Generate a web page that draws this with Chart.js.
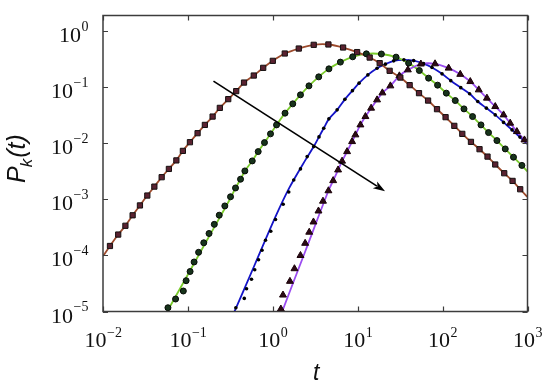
<!DOCTYPE html>
<html>
<head>
<meta charset="utf-8">
<script src="https://cdn.jsdelivr.net/npm/chart.js@4.4.1/dist/chart.umd.min.js"></script>
<style>
body { margin: 0; background: #fff; }
#wrap { width: 550px; height: 388px; }
</style>
</head>
<body>
<div id="wrap"><canvas id="pkChart" width="550" height="388"></canvas></div>
<script>
// values, stored as log10(t) and log10(P)
const xTickExp = [-2, -1, 0, 1, 2, 3];
const yTickExp = [-5, -4, -3, -2, -1, 0];

// red squares (first and last entries only anchor the line at the frame)
const redLogT = [-2.00, -1.918, -1.821, -1.736, -1.651, -1.565, -1.478, -1.395, -1.309, -1.224, -1.136, -1.059, -0.976, -0.886, -0.800, -0.709, -0.624, -0.525, -0.431, -0.339, -0.224, -0.113, 0.000, 0.141, 0.306, 0.482, 0.655, 0.828, 0.993, 1.141, 1.259, 1.376, 1.502, 1.612, 1.722, 1.829, 1.934, 2.035, 2.138, 2.232, 2.334, 2.435, 2.529, 2.620, 2.726, 2.824, 2.914, 3.00];
const redLogP = [-4.01, -3.830, -3.626, -3.469, -3.282, -3.106, -2.929, -2.770, -2.602, -2.454, -2.302, -2.132, -1.977, -1.816, -1.668, -1.519, -1.364, -1.208, -1.065, -0.912, -0.786, -0.649, -0.524, -0.393, -0.304, -0.238, -0.232, -0.286, -0.368, -0.465, -0.565, -0.702, -0.822, -0.958, -1.101, -1.233, -1.387, -1.530, -1.685, -1.828, -1.971, -2.102, -2.234, -2.375, -2.531, -2.668, -2.817, -2.954];

// green circles
const greenLogT = [-1.235, -1.145, -1.054, -1.021, -0.974, -0.927, -0.874, -0.813, -0.751, -0.689, -0.631, -0.565, -0.498, -0.439, -0.380, -0.329, -0.242, -0.172, -0.098, -0.027, 0.044, 0.144, 0.235, 0.326, 0.426, 0.541, 0.661, 0.796, 0.941, 1.102, 1.279, 1.452, 1.600, 1.726, 1.835, 1.941, 2.044, 2.149, 2.252, 2.353, 2.452, 2.541, 2.640, 2.738, 2.835, 2.934];
const greenLogP = [-4.933, -4.777, -4.634, -4.450, -4.286, -4.116, -3.943, -3.773, -3.607, -3.444, -3.280, -3.115, -2.951, -2.794, -2.638, -2.490, -2.311, -2.145, -1.984, -1.828, -1.668, -1.458, -1.292, -1.131, -0.971, -0.810, -0.667, -0.547, -0.452, -0.399, -0.402, -0.458, -0.565, -0.697, -0.833, -0.958, -1.101, -1.233, -1.382, -1.519, -1.668, -1.805, -1.948, -2.097, -2.245, -2.391];
const greenLineLowT = [-1.30, -1.036, -0.774, -0.510];
const greenLineLowP = [-5.15, -4.438, -3.723, -3.008];
const greenLineEnd = [3.00, -2.50];

// blue dots
const blueLogT = [-0.435, -0.336, -0.309, -0.251, -0.213, -0.168, -0.127, -0.086, -0.024, 0.032, 0.122, 0.188, 0.247, 0.326, 0.405, 0.482, 0.544, 0.600, 0.661, 0.758, 0.849, 0.938, 1.016, 1.120, 1.228, 1.326, 1.424, 1.544, 1.659, 1.776, 1.875, 1.993, 2.096, 2.214, 2.318, 2.414, 2.516, 2.620, 2.718, 2.818, 2.911];
const blueLogP = [-4.933, -4.766, -4.593, -4.425, -4.254, -4.075, -3.907, -3.728, -3.567, -3.357, -3.085, -2.865, -2.651, -2.454, -2.234, -2.055, -1.882, -1.727, -1.560, -1.399, -1.212, -1.056, -0.922, -0.775, -0.656, -0.583, -0.524, -0.506, -0.520, -0.574, -0.643, -0.756, -0.878, -1.003, -1.113, -1.251, -1.369, -1.489, -1.623, -1.757, -1.886];
const blueLineLowT = [-0.495, -0.209, 0.032, 0.194, 0.385];
const blueLineLowP = [-5.153, -4.152, -3.307, -2.793, -2.293];
const blueLineEnd = [3.00, -2.01];

// magenta triangles
const magLogT = [0.095, 0.120, 0.202, 0.255, 0.326, 0.381, 0.429, 0.479, 0.538, 0.591, 0.655, 0.711, 0.769, 0.816, 0.875, 0.934, 0.973, 1.032, 1.091, 1.158, 1.228, 1.291, 1.385, 1.491, 1.591, 1.744, 1.911, 2.071, 2.208, 2.326, 2.426, 2.522, 2.620, 2.718, 2.796, 2.875, 2.964];
const magLogP = [-4.956, -4.706, -4.461, -4.236, -4.000, -3.782, -3.584, -3.401, -3.205, -3.030, -2.844, -2.663, -2.472, -2.315, -2.145, -1.966, -1.846, -1.668, -1.519, -1.369, -1.221, -1.096, -0.971, -0.792, -0.685, -0.581, -0.577, -0.654, -0.765, -0.894, -1.042, -1.190, -1.340, -1.489, -1.637, -1.787, -1.936];
const magLineLowT = [0.08, 0.108, 0.384];
const magLineLowP = [-5.15, -5.01, -3.919];
const magLineEnd = [3.00, -1.99];

// arrow drawn across the curves (t, P)
const arrowFrom = [0.2, 0.13];
const arrowTo = [21, 0.0014];

function pts(lt, lp) {
	return lt.map(function(v, i) { return { x: Math.pow(10, v), y: Math.pow(10, lp[i]) }; });
}
function linePts(lowT, lowP, mT, mP, from, end) {
	return pts(lowT, lowP).concat(pts(mT.slice(from), mP.slice(from)), pts([end[0]], [end[1]]));
}

var frameColor = '#3c3c3c';

var framePlugin = {
	id: 'framePlugin',
	afterDraw: function(chart) {
		var ctx = chart.ctx;
		var a = chart.chartArea;
		var xs = chart.scales.x, ys = chart.scales.y;
		ctx.save();

		// arrow
		var x0 = xs.getPixelForValue(arrowFrom[0]), y0 = ys.getPixelForValue(arrowFrom[1]);
		var x1 = xs.getPixelForValue(arrowTo[0]), y1 = ys.getPixelForValue(arrowTo[1]);
		var ang = Math.atan2(y1 - y0, x1 - x0);
		var hl = 12, hw = 4;
		ctx.strokeStyle = '#000';
		ctx.fillStyle = '#000';
		ctx.lineWidth = 1.7;
		ctx.beginPath();
		ctx.moveTo(x0, y0);
		ctx.lineTo(x1 - Math.cos(ang) * hl * 0.8, y1 - Math.sin(ang) * hl * 0.8);
		ctx.stroke();
		ctx.beginPath();
		ctx.moveTo(x1, y1);
		ctx.lineTo(x1 - Math.cos(ang) * hl - Math.sin(ang) * hw, y1 - Math.sin(ang) * hl + Math.cos(ang) * hw);
		ctx.lineTo(x1 - Math.cos(ang) * hl * 0.75, y1 - Math.sin(ang) * hl * 0.75);
		ctx.lineTo(x1 - Math.cos(ang) * hl + Math.sin(ang) * hw, y1 - Math.sin(ang) * hl - Math.cos(ang) * hw);
		ctx.closePath();
		ctx.fill();

		// frame and inward ticks on all four sides
		ctx.strokeStyle = frameColor;
		ctx.lineWidth = 1.5;
		ctx.strokeRect(a.left, a.top, a.right - a.left, a.bottom - a.top);
		ctx.lineWidth = 1.2;
		ctx.beginPath();
		xTickExp.forEach(function(e) {
			var px = Math.round(xs.getPixelForValue(Math.pow(10, e))) + 0.5;
			ctx.moveTo(px, a.bottom); ctx.lineTo(px, a.bottom - 5);
			ctx.moveTo(px, a.top); ctx.lineTo(px, a.top + 5);
		});
		yTickExp.forEach(function(e) {
			var py = Math.round(ys.getPixelForValue(Math.pow(10, e))) + 0.5;
			ctx.moveTo(a.left, py); ctx.lineTo(a.left + 5, py);
			ctx.moveTo(a.right, py); ctx.lineTo(a.right - 5, py);
		});
		ctx.stroke();

		// tick labels 10^n
		var bigFont = '22px "Liberation Serif", "Times New Roman", serif';
		var supFont = '14px "Liberation Serif", "Times New Roman", serif';
		ctx.fillStyle = '#111';
		ctx.textAlign = 'left';
		ctx.textBaseline = 'alphabetic';
		function sup(e) { return e < 0 ? '\u2212' + (-e) : String(e); }
		xTickExp.forEach(function(e) {
			var px = xs.getPixelForValue(Math.pow(10, e));
			ctx.font = bigFont; var w1 = ctx.measureText('10').width;
			ctx.font = supFont; var w2 = ctx.measureText(sup(e)).width;
			var sx = px - (w1 + w2) / 2;
			ctx.font = bigFont; ctx.fillText('10', sx, 347);
			ctx.font = supFont; ctx.fillText(sup(e), sx + w1 + 0.5, 337);
		});
		yTickExp.forEach(function(e) {
			var py = ys.getPixelForValue(Math.pow(10, e));
			ctx.font = bigFont; var w1 = ctx.measureText('10').width;
			ctx.font = supFont; var w2 = ctx.measureText(sup(e)).width;
			var sx = 88 - (w1 + w2);
			ctx.font = bigFont; ctx.fillText('10', sx, py + 11);
			ctx.font = supFont; ctx.fillText(sup(e), sx + w1 + 0.5, py - 0.5);
		});

		// axis titles
		ctx.font = 'italic 23px "Liberation Sans", Arial, sans-serif';
		ctx.textAlign = 'center';
		ctx.fillText('t', (a.left + a.right) / 2 + 1, 380);

		ctx.translate(25, 183);
		ctx.rotate(-Math.PI / 2);
		ctx.textAlign = 'left';
		ctx.font = 'italic 25px "Liberation Sans", Arial, sans-serif';
		var wP = ctx.measureText('P').width;
		ctx.fillText('P', 0, 0);
		ctx.font = 'italic 17px "Liberation Sans", Arial, sans-serif';
		var wk = ctx.measureText('k').width;
		ctx.fillText('k', wP - 1, 7);
		ctx.font = 'italic 25px "Liberation Sans", Arial, sans-serif';
		ctx.fillText('(t)', wP + wk, 0);
		ctx.restore();
	}
};

var redLast = redLogT.length - 1;
var chart = new Chart(document.getElementById('pkChart'), {
	type: 'scatter',
	data: {
		datasets: [
			{
				data: pts(redLogT, redLogP),
				showLine: false,
				pointStyle: 'rect',
				pointRadius: function(c) { return (c.dataIndex === 0 || c.dataIndex === redLast) ? 0 : 3.7; },
				pointBackgroundColor: '#5a2230',
				pointBorderColor: '#151010',
				pointBorderWidth: 1
			},
			{
				data: pts(magLogT, magLogP),
				showLine: false,
				pointStyle: 'triangle',
				pointRadius: 4,
				pointBackgroundColor: '#2a0a14',
				pointBorderColor: '#1a0008',
				pointBorderWidth: 1
			},
			{
				data: pts(greenLogT, greenLogP),
				showLine: false,
				pointStyle: 'circle',
				pointRadius: 3,
				pointBackgroundColor: '#17331b',
				pointBorderColor: '#050a05',
				pointBorderWidth: 1
			},
			{
				data: pts(blueLogT, blueLogP),
				showLine: false,
				pointStyle: 'circle',
				pointRadius: 1.8,
				pointBackgroundColor: '#000',
				pointBorderColor: '#000',
				pointBorderWidth: 0
			},
			{
				data: pts(redLogT, redLogP),
				showLine: true,
				borderColor: '#9c4a2c',
				borderWidth: 1.8,
				tension: 0.3,
				pointRadius: 0
			},
			{
				data: linePts(magLineLowT, magLineLowP, magLogT, magLogP, 10, magLineEnd),
				showLine: true,
				borderColor: '#9b4cf0',
				borderWidth: 1.8,
				tension: 0.3,
				pointRadius: 0
			},
			{
				data: linePts(greenLineLowT, greenLineLowP, greenLogT, greenLogP, 13, greenLineEnd),
				showLine: true,
				borderColor: '#7acb2c',
				borderWidth: 1.8,
				tension: 0.3,
				pointRadius: 0
			},
			{
				data: linePts(blueLineLowT, blueLineLowP, blueLogT, blueLogP, 15, blueLineEnd),
				showLine: true,
				borderColor: '#1414c8',
				borderWidth: 1.8,
				tension: 0.3,
				pointRadius: 0
			}
		]
	},
	plugins: [framePlugin],
	options: {
		responsive: false,
		animation: false,
		layout: {
			padding: { left: 103, right: 22.5, top: 15.5, bottom: 76.5 }
		},
		plugins: {
			legend: { display: false },
			tooltip: { enabled: false }
		},
		scales: {
			x: {
				type: 'logarithmic',
				display: false,
				min: 0.01,
				max: 1000
			},
			y: {
				type: 'logarithmic',
				display: false,
				min: 0.00001,
				max: 1.93
			}
		}
	}
});
</script>
</body>
</html>
